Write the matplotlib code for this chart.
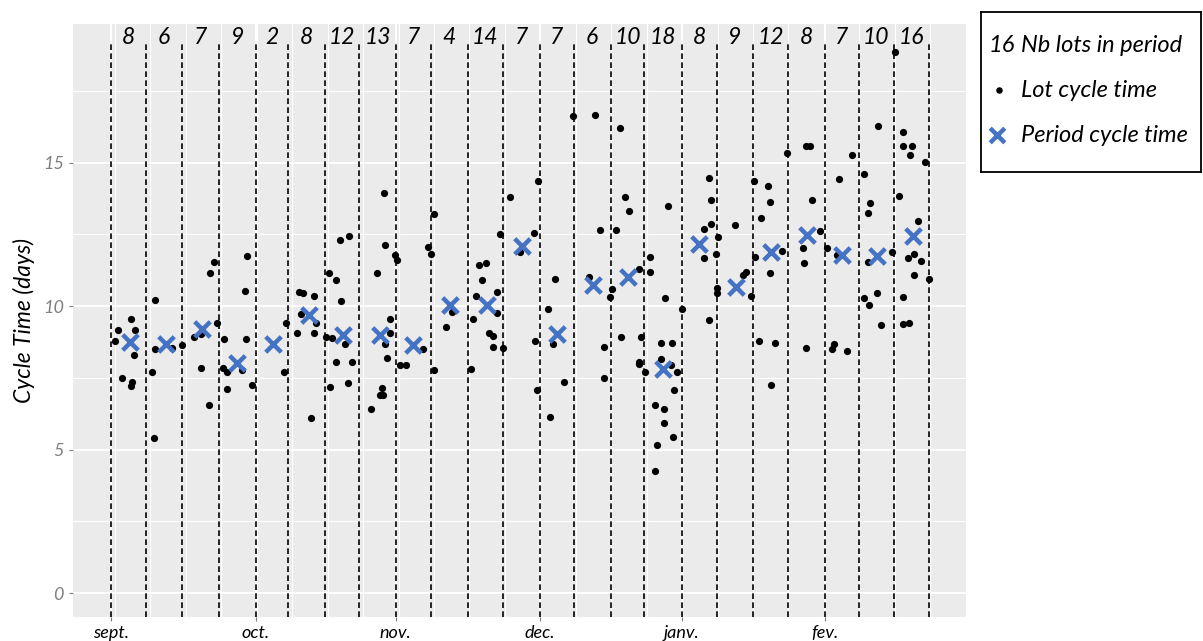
# -*- coding: utf-8 -*-
import numpy as np
import matplotlib
matplotlib.use('Agg')
import matplotlib.pyplot as plt

plt.rcParams['font.family'] = ['Lato', 'DejaVu Sans']

# period start positions (x unit ~ one week)
period_starts = [0, 0.97, 1.99, 3.04, 4.07, 4.98, 6.01, 6.98, 8.0, 8.98, 10.03, 11.0,
                 12.04, 13.0, 14.04, 14.98, 16.04, 17.02, 18.04, 19.03, 20.05, 21.02,
                 21.99, 22.99]
period_counts = [8, 6, 7, 9, 2, 8, 12, 13, 7, 4, 14, 7, 7, 6, 10, 18, 8, 9, 12, 8, 7, 10, 16]

month_labels = ['sept.', 'oct.', 'nov.', 'dec.', 'janv.', 'fev.']
month_starts = [0, 4.07, 8.0, 12.04, 16.04, 20.05]

# period cycle time (blue crosses)
period_x = [0.54, 1.55, 2.55, 3.53, 4.54, 5.56, 6.52, 7.55, 8.48, 9.51, 10.57, 11.54,
            12.52, 13.55, 14.53, 15.50, 16.52, 17.57, 18.54, 19.56, 20.55, 21.53, 22.53]
period_ct = [8.74, 8.69, 9.22, 8.01, 8.68, 9.69, 9.01, 9.00, 8.65, 10.05, 10.05, 12.11,
             9.03, 10.74, 11.00, 7.82, 12.17, 10.66, 11.87, 12.48, 11.79, 11.73, 12.43]

# lot cycle time (black dots)
lot_x = [
    0.19, 0.11, 0.56, 0.67, 0.64, 0.30, 0.60, 0.56,
    1.23, 1.23, 1.16, 1.20, 1.70, 2.00,
    2.34, 2.54, 2.79, 2.90, 2.53, 2.76, 2.98,
    3.16, 3.15, 3.27, 3.25, 3.76, 3.83, 3.80, 3.95, 3.67,
    4.91, 4.87,
    5.28, 5.40, 5.70, 5.35, 5.77, 5.21, 5.70, 5.61,
    6.11, 6.33, 6.44, 6.69, 6.47, 6.05, 6.22, 6.57, 6.33, 6.78, 6.14, 6.67,
    7.68, 7.71, 7.48, 7.83, 7.83, 7.70, 7.74, 7.60, 7.55, 7.64, 7.30,
    7.99, 8.03, 8.11, 8.30, 8.76, 8.90, 8.98,
    9.07, 9.42, 9.58, 9.07,
    10.35, 10.54, 10.43, 10.26, 10.84, 10.16, 10.84, 10.61, 10.72, 10.72, 11.02, 10.10, 10.92,
    11.20, 11.99, 11.88, 11.48, 11.92, 11.97,
    12.99, 12.47, 12.29, 12.41, 12.73, 12.32,
    13.60, 13.74, 13.44, 13.86, 13.86, 14.01,
    14.30, 14.45, 14.56, 14.19, 14.08, 14.82, 14.34, 14.90, 14.82, 14.82, 15.01,
    15.13, 15.13, 15.65, 15.56, 16.05, 15.46, 15.76, 15.46, 15.73, 15.90, 15.81, 15.29,
    15.54, 15.55, 15.78, 15.34, 15.29,
    16.79, 16.87, 16.87, 16.65, 16.65, 17.00, 16.79,
    17.06, 17.02, 17.02, 17.54, 17.75, 17.84, 17.99,
    18.06, 18.47, 18.51, 18.25, 18.10, 18.85, 18.52, 18.21, 18.65, 18.55, 18.99,
    19.54, 19.64, 19.70, 19.92, 19.44, 19.48, 19.52,
    20.11, 20.45, 20.81, 20.41, 20.31, 20.25, 20.67,
    21.15, 21.56, 21.33, 21.26, 21.27, 21.93, 21.15, 21.30, 21.53, 21.63,
    22.04, 22.25, 22.25, 22.50, 22.46, 22.87, 22.13, 22.68, 22.38, 22.57, 22.76, 22.57,
    22.98, 22.24, 22.26, 22.42,
]
lot_ct = [
    9.17, 8.77, 9.55, 9.17, 8.31, 7.50, 7.37, 7.22,
    10.22, 8.50, 7.69, 5.41, 8.54, 8.64,
    8.94, 9.03, 11.17, 11.54, 7.86, 6.55, 9.43,
    8.86, 7.86, 7.72, 7.13, 10.54, 11.76, 8.86, 7.27, 7.78,
    9.41, 7.72,
    10.51, 10.45, 10.36, 9.73, 9.41, 9.06, 9.06, 6.10,
    11.15, 10.92, 12.31, 12.45, 10.18, 8.94, 8.88, 8.69, 8.05, 8.05, 7.18, 7.33,
    13.94, 12.14, 11.17, 9.55, 9.08, 8.69, 8.19, 7.15, 6.91, 6.91, 6.41,
    11.79, 11.61, 7.95, 7.95, 8.50, 12.06, 11.80,
    13.22, 9.27, 9.81, 7.78,
    11.44, 11.50, 10.92, 10.36, 10.49, 9.55, 9.76, 9.06, 8.97, 8.59, 8.55, 7.82, 12.50,
    13.81, 14.35, 12.54, 11.87, 8.77, 7.08,
    16.62, 10.95, 9.91, 8.69, 7.36, 6.14,
    16.67, 12.66, 11.01, 8.59, 7.49, 10.31,
    16.21, 13.81, 13.31, 12.67, 10.59, 11.31, 8.92, 8.92, 8.07, 7.99, 7.69,
    11.72, 11.18, 13.50, 10.28, 9.89, 8.72, 8.72, 8.15, 7.95, 7.72, 7.07, 6.55,
    6.41, 5.92, 5.45, 5.17, 4.26,
    14.45, 13.71, 12.87, 12.68, 11.67, 11.81, 9.50,
    12.40, 10.64, 10.45, 12.81, 11.09, 11.18, 10.36,
    14.35, 14.17, 13.62, 13.08, 11.71, 11.92, 11.17, 8.80, 8.72, 7.27, 15.35,
    15.59, 15.59, 13.71, 12.63, 12.03, 11.50, 8.55,
    12.04, 14.44, 15.26, 11.79, 8.69, 8.50, 8.45,
    14.59, 16.26, 13.59, 13.26, 11.53, 11.90, 10.28, 10.05, 10.45, 9.36,
    18.85, 16.08, 15.59, 15.59, 15.26, 15.03, 13.85, 12.95, 11.67, 11.82, 11.59, 11.09,
    10.95, 10.31, 9.37, 9.41,
]

blue = '#4472C4'
grey = '#7F7F7F'

fig = plt.figure(figsize=(12.03, 6.41), dpi=100)
ax = fig.add_axes([0.0607, 0.0374, 0.7431, 0.9252])
ax.set_facecolor('#EBEBEB')
for s in ax.spines.values():
    s.set_visible(False)
ax.set_xlim(-1.07, 24.05)
ax.set_ylim(-0.83, 19.83)

# ggplot-like grid
for y in [0, 5, 10, 15]:
    ax.axhline(y, color='white', lw=1.4, zorder=0)
for y in [2.5, 7.5, 12.5, 17.5]:
    ax.axhline(y, color='white', lw=0.8, zorder=0)
for x in month_starts:
    ax.axvline(x, color='white', lw=1.4, zorder=0)
for x in np.arange(0.11, 24.1, 0.996):
    ax.axvline(x, color='white', lw=0.8, zorder=0)

# period boundaries
ax.vlines(period_starts, -0.83, 19.14, colors='black', linestyles=(0, (3.4, 2.0)),
          lw=1.2, zorder=1)

# number of lots per period
ends = period_starts[1:] + [period_starts[-1] + 1.03]
for a, b, n in zip(period_starts, ends, period_counts):
    ax.text((a + b) / 2, 19.35, str(n), ha='center', va='center', fontsize=16.5,
            style='italic', color='black')

ax.scatter(lot_x, lot_ct, s=27, c='black', linewidths=0, zorder=3)
ax.scatter(period_x, period_ct, marker='x', s=125, c=blue, linewidths=3.2, zorder=4)

ax.set_yticks([0, 5, 10, 15])
ax.set_yticklabels(['0', '5', '10', '15'], fontsize=13, color=grey, style='italic')
ax.set_xticks(month_starts)
ax.set_xticklabels(month_labels, fontsize=13, color='black', style='italic')
ax.tick_params(axis='both', color=grey, length=3, width=0.8)
ax.tick_params(axis='x', pad=3)
ax.set_ylabel('Cycle Time (days)', fontsize=16.5, style='italic', labelpad=6)

# legend box
lax = fig.add_axes([981 / 1203, (641 - 172) / 641, 220 / 1203, 160 / 641])
lax.set_xlim(0, 1)
lax.set_ylim(0, 1)
lax.set_xticks([])
lax.set_yticks([])
for s in lax.spines.values():
    s.set_color('black')
    s.set_linewidth(1.3)
lax.text(0.035, 0.79, '16', fontsize=17, style='italic', va='center', ha='left')
lax.text(0.18, 0.79, 'Nb lots in period', fontsize=17, style='italic', va='center', ha='left')
lax.scatter([0.08], [0.51], s=22, c='black', linewidths=0)
lax.text(0.18, 0.51, 'Lot cycle time', fontsize=17, style='italic', va='center', ha='left')
lax.scatter([0.075], [0.23], marker='x', s=110, c=blue, linewidths=3.2)
lax.text(0.18, 0.23, 'Period cycle time', fontsize=17, style='italic', va='center', ha='left')

fig.savefig('out.png', dpi=100)
